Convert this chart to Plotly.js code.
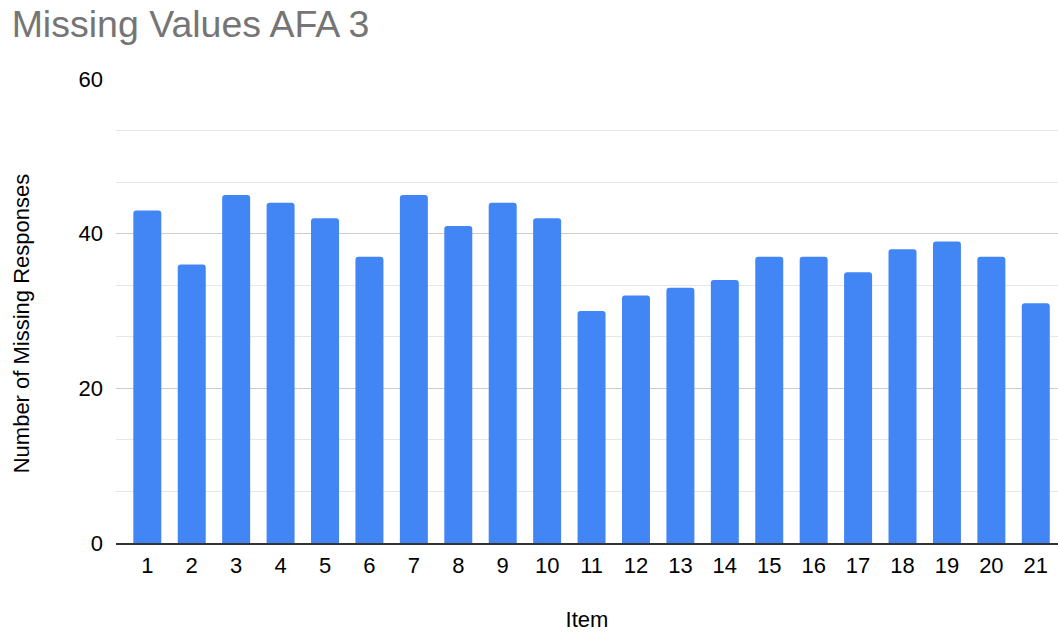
<!DOCTYPE html>
<html><head><meta charset="utf-8">
<script src="https://cdn.plot.ly/plotly-3.0.1.min.js"></script>
<style>html,body{margin:0;padding:0;background:#fff}</style>
</head><body><div id="chart" style="width:1058px;height:632px"></div>
<script>
const items = ["1","2","3","4","5","6","7","8","9","10","11","12","13","14","15","16","17","18","19","20","21"];
const missing = [43,36,45,44,42,37,45,41,44,42,30,32,33,34,37,37,35,38,39,37,31];
const yTicks = [0,20,40,60];

const xNum = items.map(Number);
Plotly.newPlot('chart', [{
  type: 'bar',
  x: xNum,
  y: missing,
  marker: {color: '#4285F4', cornerradius: 3},
  width: 0.63,
  hoverinfo: 'x+y'
}], {
  width: 1058, height: 632,
  margin: {l: 116, r: 0, t: 78.5, b: 89.3},
  paper_bgcolor: '#fff', plot_bgcolor: '#fff',
  font: {family: 'Liberation Sans, Arial, sans-serif', color: '#000', size: 22},
  title: {text: 'Missing Values AFA 3', x: 0.011, xanchor: 'left', y: 0.983, yanchor: 'top',
          font: {size: 37.5, color: '#757575', family: 'Liberation Sans, Arial, sans-serif'}},
  showlegend: false,
  xaxis: {
    range: [0.295, 21.5],
    tickmode: 'array', tickvals: xNum, ticktext: items,
    showgrid: false, zeroline: false,
    showline: true, linecolor: '#333', linewidth: 1.5,
    ticks: '', ticklabelstandoff: 2,
    tickfont: {size: 22, color: '#000'},
    title: {text: 'Item', font: {size: 22, color: '#000'}, standoff: 35}
  },
  yaxis: {
    range: [0, 60],
    tickmode: 'array', tickvals: yTicks, ticktext: yTicks.map(String),
    showgrid: true, gridcolor: '#cccccc', gridwidth: 1,
    minor: {dtick: 20/3, tick0: 0, showgrid: true, gridcolor: '#e6e6e6', gridwidth: 1},
    zeroline: false, showline: false, ticks: '', ticklabelstandoff: 12,
    tickfont: {size: 22, color: '#000'}
  },
  annotations: [{
    text: 'Number of Missing Responses', textangle: -90,
    xref: 'paper', yref: 'paper', x: -0.1008, y: 0.4736,
    xanchor: 'center', yanchor: 'middle', showarrow: false,
    font: {size: 22, color: '#000'}
  }]
}, {displayModeBar: false, staticPlot: true});
</script></body></html>
